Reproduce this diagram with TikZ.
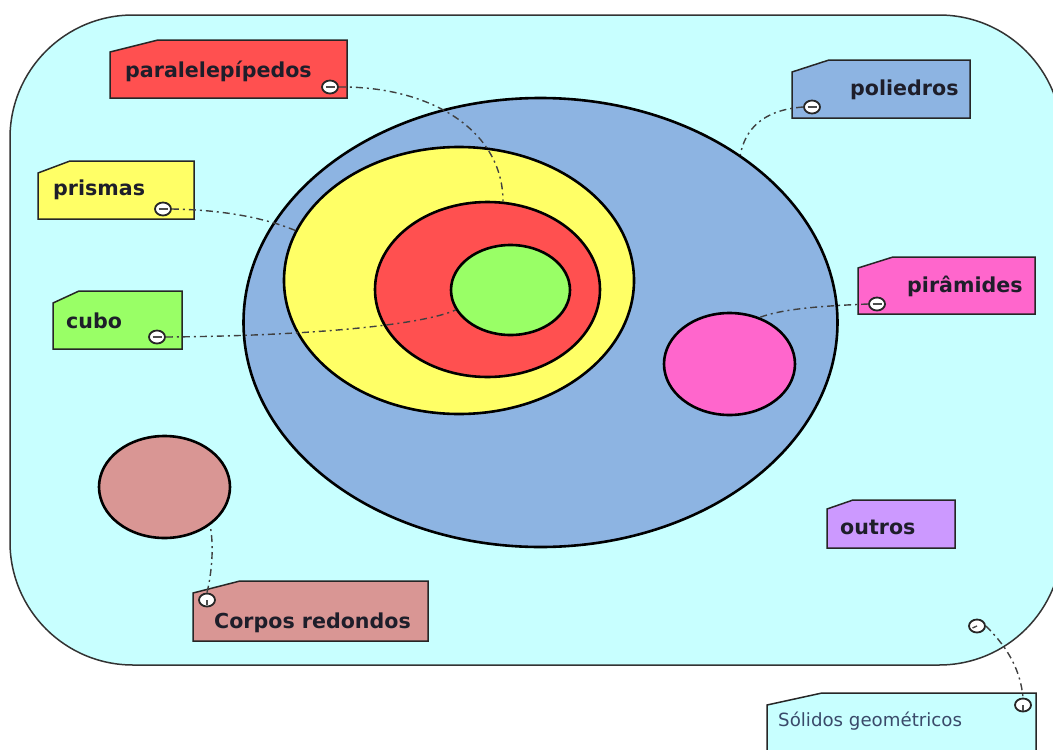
\documentclass[tikz,border=0pt]{standalone}
\usepackage{fontspec}
\setmainfont{DejaVu Sans}
\usetikzlibrary{shapes.geometric}
\definecolor{bg}{HTML}{C8FFFF}
\definecolor{cred}{HTML}{FF5050}
\definecolor{cyel}{HTML}{FFFF66}
\definecolor{cgreen}{HTML}{99FF66}
\definecolor{cblue}{HTML}{8DB4E2}
\definecolor{cpink}{HTML}{FF66CC}
\definecolor{cbrown}{HTML}{D99694}
\definecolor{cpurple}{HTML}{CC99FF}
\definecolor{txt}{HTML}{1E1E2A}
\definecolor{txtb}{HTML}{3A4A6A}
\begin{document}
\begin{tikzpicture}[x=1pt,y=-1pt,
  region/.style={ellipse, draw=black, line width=2.6, inner sep=0},
  tagshape/.style={draw=black!85, line width=1.5},
  lbl/.style={anchor=west, inner sep=0, text=txt, font=\fontsize{20.6}{24}\selectfont\bfseries},
  knob/.style={ellipse, draw=black!85, line width=1.8, fill=white, minimum width=16, minimum height=13, inner sep=0},
  knobmark/.style={draw=black!70, line width=1.4},
  link/.style={draw=black!75, line width=1.4, dash pattern=on 7pt off 4pt on 2pt off 4pt}]
\useasboundingbox (0,0) rectangle (1053,750);
\clip (0,0) rectangle (1053,750);
\fill[white] (0,0) rectangle (1053,750);
% outer region
\draw[fill=bg, draw=black!80, line width=1.5, rounded corners=123] (10,15) rectangle (1062,665);
% ellipses
\node[region, fill=cblue, minimum width=594, minimum height=449] (blue) at (540.5,322.5) {};
\node[region, fill=cyel, minimum width=350, minimum height=267] (yellow) at (459,280.5) {};
\node[region, fill=cred, minimum width=225, minimum height=175] (red) at (487.5,289.5) {};
\node[region, fill=cgreen, minimum width=119, minimum height=90] (green) at (510.5,290) {};
\node[region, fill=cpink, minimum width=131, minimum height=102] (pinkc) at (729.5,364) {};
\node[region, fill=cbrown, minimum width=131, minimum height=102] (brown) at (164.5,487) {};
% tags
\draw[tagshape, fill=cred] (110,52) -- (158,40) -- (347,40) -- (347,98) -- (110,98) -- cycle;
\node[lbl] (tpara) at (125,71) {paralelepípedos};
\node[knob] (kpara) at (330,87) {};
\draw[tagshape, fill=cyel] (38,173) -- (70,161) -- (194,161) -- (194,219) -- (38,219) -- cycle;
\node[lbl] (tprism) at (53,190) {prismas};
\node[knob] (kprism) at (163,209) {};
\draw[tagshape, fill=cgreen] (53,303) -- (79,291) -- (182,291) -- (182,349) -- (53,349) -- cycle;
\node[lbl] (tcubo) at (66,321) {cubo};
\node[knob] (kcubo) at (157,337) {};
\draw[tagshape, fill=cblue] (792,72) -- (829,60) -- (970,60) -- (970,118) -- (792,118) -- cycle;
\node[lbl] (tpoli) at (850,90) {poliedros};
\node[knob] (kpoli) at (812,107) {};
\draw[tagshape, fill=cpink] (858,268) -- (893,257) -- (1035,257) -- (1035,314) -- (858,314) -- cycle;
\node[lbl] (tpir) at (907,286) {pirâmides};
\node[knob] (kpir) at (877,304) {};
\draw[tagshape, fill=cbrown] (193,593) -- (240,581) -- (428,581) -- (428,641) -- (193,641) -- cycle;
\node[lbl] (tcorp) at (214,623) {Corpos redondos};
\node[knob] (kcorp) at (207,600) {};
\draw[tagshape, fill=cpurple] (827,509) -- (853,500) -- (955,500) -- (955,548) -- (827,548) -- cycle;
\node[lbl] (tout) at (840,527) {outros};
\draw[tagshape, fill=bg] (767,705) -- (822,693) -- (1036,693) -- (1036,765) -- (767,765) -- cycle;
\node[lbl, text=txtb, font=\fontsize{18.2}{21}\selectfont] (tsol) at (778,721) {Sólidos geométricos};
\node[knob] (ksol) at (1023,705) {};
\node[knob] (ksolin) at (977,626) {};
% knob marks
\foreach \k in {kpara,kprism,kcubo,kpoli,kpir}
  \draw[knobmark] ([xshift=-4.5]\k.center) -- ([xshift=4.5]\k.center);
\draw[knobmark] (kcorp.center) -- ([yshift=-4.5]kcorp.center);
\draw[knobmark] (ksol.center) -- ([yshift=-5.5]ksol.center);
\draw[knobmark] (ksolin.center) -- ([xshift=-4.5,yshift=-2]ksolin.center);
% connectors
\draw[link] (kpara.east) .. controls (430,86) and (503,130) .. (red.80);
\draw[link] (kprism.east) .. controls (230,210) and (270,220) .. (yellow.163);
\draw[link] (kcubo.east) .. controls (300,336) and (420,326) .. (green.200);
\draw[link] (kpoli.west) .. controls (762,110) and (745,130) .. (blue.40);
\draw[link] (kpir.west) .. controls (820,306) and (782,309) .. (pinkc.57);
\draw[link] (kcorp.north) .. controls (212,572) and (214,545) .. (brown.-40);
\draw[link] (ksolin.east) .. controls (1003,643) and (1020,665) .. (ksol.north);
\end{tikzpicture}
\end{document}
